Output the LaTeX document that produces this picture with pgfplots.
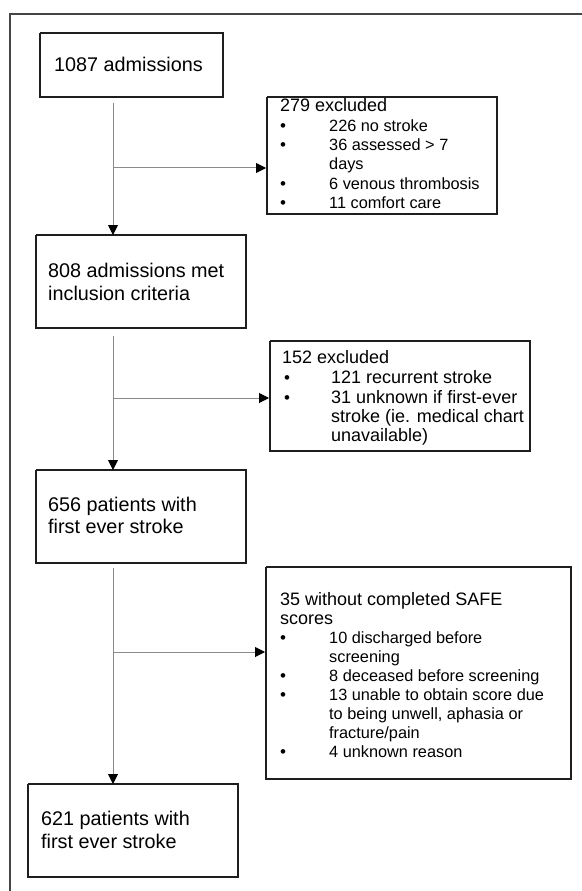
\documentclass[border=0pt]{standalone}
\usepackage{pgfplots}
\pgfplotsset{compat=1.18}
\usepackage{fontspec}
\setmainfont{Liberation Sans}
\usetikzlibrary{arrows.meta}
\definecolor{boxc}{HTML}{1E1E1E}
\definecolor{linec}{HTML}{8A8A8A}
\definecolor{framec}{HTML}{454545}
\tikzset{
  big/.style={font=\fontsize{19.8bp}{22bp}\selectfont, inner sep=0pt, anchor=base west},
  sm/.style={font=\fontsize{18bp}{19bp}\selectfont, inner sep=0pt, anchor=base west},
  xs/.style={font=\fontsize{16.3bp}{19bp}\selectfont, inner sep=0pt, anchor=base west},
  bul/.style={font=\fontsize{17bp}{19bp}\selectfont, inner sep=0pt, anchor=base},
}
\pgfplotsset{
  box/.style={draw=boxc, line width=1.5bp, mark=none},
  arr/.style={draw=linec, line width=1bp, mark=none, -{Triangle[length=10bp,width=10bp,color=black]}},
}
\begin{document}
\begin{tikzpicture}
\begin{axis}[
  width=582bp, height=891bp, scale only axis,
  xmin=0, xmax=582, ymin=0, ymax=891, y dir=reverse,
  hide axis, clip=false,
]
% outer frame
\addplot[draw=framec, line width=1.5bp, mark=none] coordinates {(10,891) (10,14) (582,14)};
% boxes
\addplot[box] coordinates {(40,33) (223,33) (223,97) (40,97) (40,33)};
\addplot[box] coordinates {(267,97) (497,97) (497,214) (267,214) (267,97)};
\addplot[box] coordinates {(36,235) (246,235) (246,328) (36,328) (36,235)};
\addplot[box] coordinates {(270,341) (530,341) (530,451) (270,451) (270,341)};
\addplot[box] coordinates {(36,470) (246,470) (246,563) (36,563) (36,470)};
\addplot[box] coordinates {(266,567) (571,567) (571,779) (266,779) (266,567)};
\addplot[box] coordinates {(28,784) (238,784) (238,877) (28,877) (28,784)};
% arrows
\addplot[arr] coordinates {(113,103) (113,235)};
\addplot[arr] coordinates {(113,168) (266,168)};
\addplot[arr] coordinates {(113,336) (113,470)};
\addplot[arr] coordinates {(113,398) (269,398)};
\addplot[arr] coordinates {(113,568) (113,784)};
\addplot[arr] coordinates {(113,652) (265,652)};
% texts
\node[big] at (axis cs:54,72) {1087 admissions};
\node[sm] at (axis cs:280,112) {279 excluded};
\node[bul] at (axis cs:283,132) {•};
\node[xs] at (axis cs:329,132) {226 no stroke};
\node[bul] at (axis cs:283,151) {•};
\node[xs] at (axis cs:329,151) {36 assessed > 7};
\node[xs] at (axis cs:329,170) {days};
\node[bul] at (axis cs:283,190) {•};
\node[xs] at (axis cs:329,190) {6 venous thrombosis};
\node[bul] at (axis cs:283,209) {•};
\node[xs] at (axis cs:329,209) {11 comfort care};
\node[big] at (axis cs:48,277) {808 admissions met};
\node[big] at (axis cs:48,300) {inclusion criteria};
\node[sm] at (axis cs:282,363) {152 excluded};
\node[bul] at (axis cs:287,383) {•};
\node[sm] at (axis cs:331,383) {121 recurrent stroke};
\node[bul] at (axis cs:287,403) {•};
\node[sm] at (axis cs:331,403) {31 unknown if first-ever};
\node[sm] at (axis cs:331,422) {stroke (ie. medical chart};
\node[sm] at (axis cs:331,441) {unavailable)};
\node[big] at (axis cs:48,511) {656 patients with};
\node[big] at (axis cs:48,533) {first ever stroke};
\node[sm] at (axis cs:280,605) {35 without completed SAFE};
\node[sm] at (axis cs:280,624) {scores};
\node[bul] at (axis cs:283,643) {•};
\node[xs] at (axis cs:329,643) {10 discharged before};
\node[xs] at (axis cs:329,662) {screening};
\node[bul] at (axis cs:283,681) {•};
\node[xs] at (axis cs:329,681) {8 deceased before screening};
\node[bul] at (axis cs:283,700) {•};
\node[xs] at (axis cs:329,700) {13 unable to obtain score due};
\node[xs] at (axis cs:329,719) {to being unwell, aphasia or};
\node[xs] at (axis cs:329,738) {fracture/pain};
\node[bul] at (axis cs:283,757) {•};
\node[xs] at (axis cs:329,757) {4 unknown reason};
\node[big] at (axis cs:41,825) {621 patients with};
\node[big] at (axis cs:41,848) {first ever stroke};
\end{axis}
\pgfresetboundingbox
\useasboundingbox (current axis.south west) rectangle (current axis.north east);
\end{tikzpicture}
\end{document}
